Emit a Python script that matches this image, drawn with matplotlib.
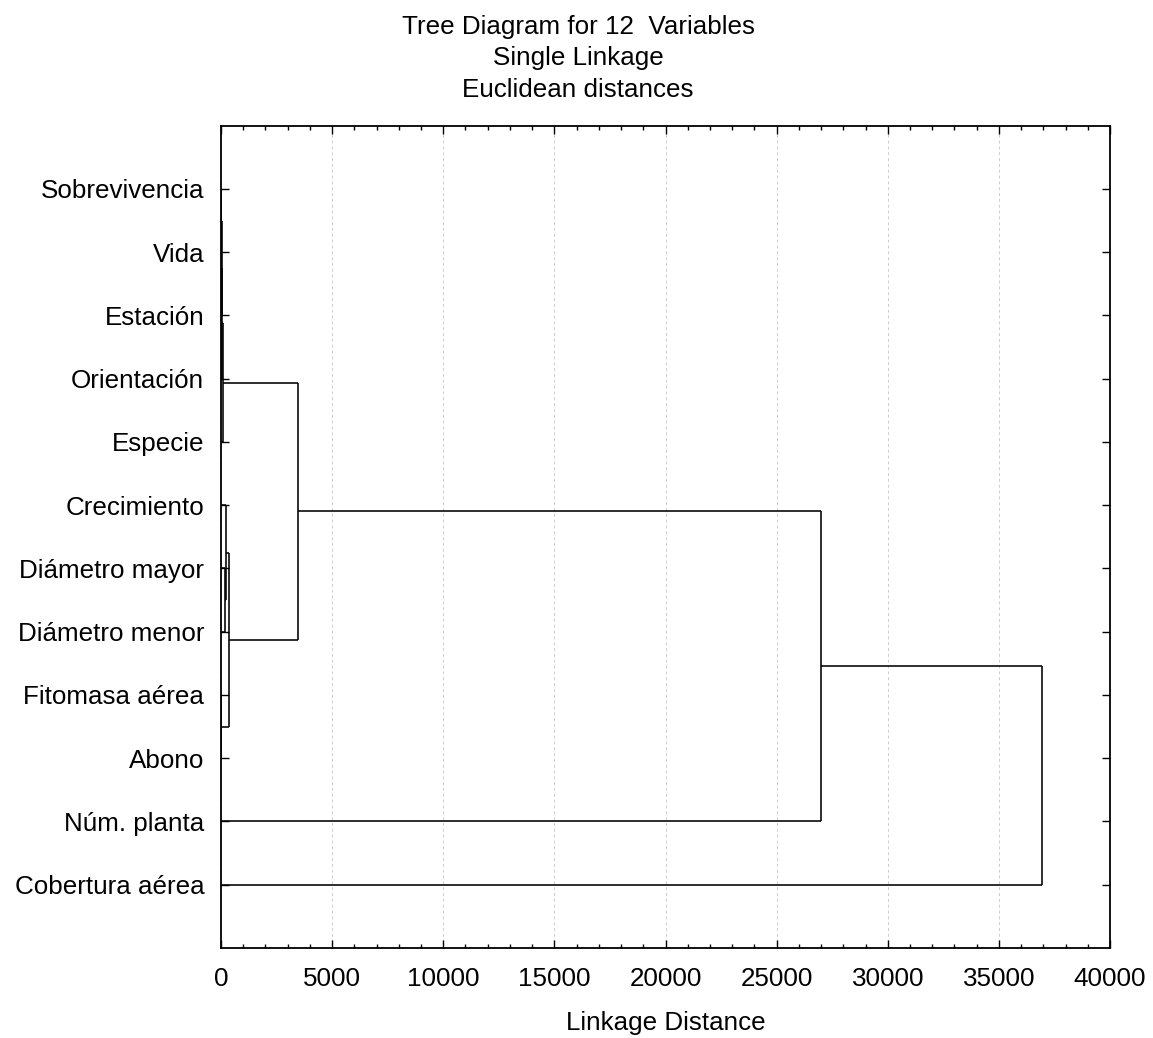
import matplotlib
matplotlib.use("Agg")
import matplotlib.pyplot as plt
from matplotlib.ticker import MultipleLocator

plt.rcParams['font.family'] = ['Liberation Sans', 'DejaVu Sans']

# Leaves, top to bottom
labels = ["Sobrevivencia", "Vida", "Estación", "Orientación", "Especie",
          "Crecimiento", "Diámetro mayor", "Diámetro menor", "Fitomasa aérea",
          "Abono", "Núm. planta", "Cobertura aérea"]

# Merges (scipy-like: new cluster ids start at 12)
merge_a = [0, 8, 12, 14, 15, 6, 5, 18, 16, 20, 21]
merge_b = [1, 9, 2, 3, 4, 7, 17, 13, 19, 10, 11]
merge_h = [15, 10, 40, 65, 95, 180, 225, 375, 3465, 27000, 36950]

x_ticks = [0, 5000, 10000, 15000, 20000, 25000, 30000, 35000, 40000]

title_lines = ["Tree Diagram for 12  Variables", "Single Linkage", "Euclidean distances"]

fig = plt.figure(figsize=(11.53, 10.38), dpi=100)
ax = fig.add_axes([221/1153, 1 - 948/1038, (1110-221)/1153, (948-125.7)/1038])

n = len(labels)
pos = {i: float(i) for i in range(n)}
hgt = {i: 0.0 for i in range(n)}
for k, (a, b, h) in enumerate(zip(merge_a, merge_b, merge_h)):
    cid = n + k
    ya, yb = pos[a], pos[b]
    ax.plot([hgt[a], h], [ya, ya], color='black', lw=1.15, solid_capstyle='butt')
    ax.plot([hgt[b], h], [yb, yb], color='black', lw=1.15, solid_capstyle='butt')
    ax.plot([h, h], [ya, yb], color='black', lw=1.15, solid_capstyle='butt')
    pos[cid] = (ya + yb) / 2
    hgt[cid] = h

ax.set_xlim(0, 40000)
ax.set_ylim(n, -1)
ax.set_xticks(x_ticks)
ax.set_xticklabels([str(v) for v in x_ticks])
ax.xaxis.set_minor_locator(MultipleLocator(1000))
ax.set_yticks(range(n))
ax.set_yticklabels(labels)
ax.tick_params(axis='both', which='major', direction='in', length=6, width=1.0,
               labelsize=18.7, top=True, right=True, color='black')
ax.tick_params(axis='x', which='major', pad=14)
ax.tick_params(axis='y', which='major', pad=12)
ax.tick_params(axis='x', which='minor', direction='in', length=3, width=1.0,
               top=True, bottom=True)
for s in ax.spines.values():
    s.set_linewidth(1.3)

ax.grid(axis='x', which='major', linestyle=(0, (3, 3)), color='#cccccc', lw=0.7)
ax.set_axisbelow(True)

ax.set_xlabel("Linkage Distance", fontsize=18.7, labelpad=14)

for i, t in enumerate(title_lines):
    fig.text(0.5015, 1 - (27 + 31.5 * i) / 1038, t, ha='center', va='center', fontsize=18.7)

fig.savefig("out.png", dpi=100, facecolor='white')
